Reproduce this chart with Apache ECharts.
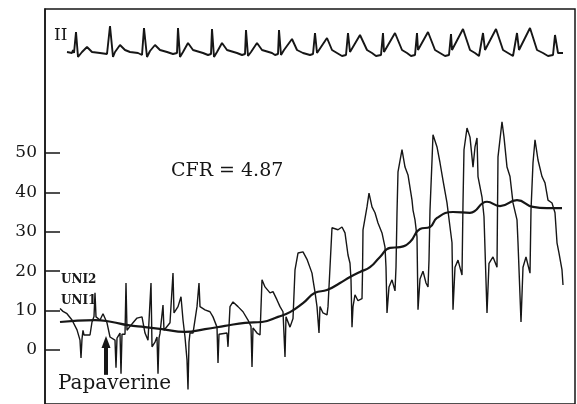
<!DOCTYPE html>
<html>
<head>
<meta charset="utf-8">
<script src="https://cdn.jsdelivr.net/npm/echarts@6/dist/echarts.min.js"></script>
<style>
  html, body { margin: 0; padding: 0; background: #fff; }
  #chart { width: 577px; height: 404px; }
</style>
</head>
<body>
<div id="chart"></div>
<script>
// Time axis in seconds; velocity in cm/s; ECG lead II in mV.
const yTickValues = [0, 10, 20, 30, 40, 50];

// Intracoronary Doppler flow velocity trace (UNI1), [time s, cm/s]
const velocityTrace = [
  [0.30,10.5],[0.36,9.8],[0.44,9.2],[0.54,7.6],[0.64,5.1],[0.70,2.5],[0.72,-2.0],[0.74,2.8],
  [0.76,5.0],[0.78,3.8],[0.90,3.8],[0.94,7.1],[0.98,8.5],[1.00,14.5],[1.02,8.4],[1.10,7.6],
  [1.16,9.2],[1.24,6.9],[1.30,3.3],[1.40,2.5],[1.42,-4.5],[1.44,3.0],[1.50,4.3],[1.52,-6.0],
  [1.54,4.0],[1.60,4.0],[1.62,17.0],[1.64,5.0],[1.70,6.0],[1.76,6.9],[1.84,8.1],[1.94,8.4],
  [2.00,4.3],[2.06,2.5],[2.12,17.0],[2.14,0.8],[2.20,2.0],[2.24,3.3],[2.26,-6.0],[2.28,3.0],
  [2.30,4.2],[2.36,11.4],[2.38,5.0],[2.50,6.9],[2.56,19.5],[2.58,9.4],[2.66,11.0],[2.72,13.5],
  [2.76,7.6],[2.80,3.3],[2.84,-2.5],[2.86,-10.0],[2.88,2.0],[2.90,4.3],[2.96,4.3],[3.04,11.0],
  [3.08,17.0],[3.10,11.0],[3.20,10.2],[3.30,9.7],[3.36,8.4],[3.44,5.8],[3.46,-3.3],[3.48,4.0],
  [3.50,4.3],[3.64,4.3],[3.66,0.8],[3.68,6.0],[3.70,11.0],[3.76,12.2],[3.86,11.0],[3.96,9.7],
  [4.06,7.6],[4.12,6.0],[4.14,-4.3],[4.16,5.6],[4.24,4.3],[4.30,3.8],[4.34,17.8],[4.40,16.0],
  [4.50,14.5],[4.56,14.8],[4.64,12.7],[4.70,11.0],[4.76,9.7],[4.80,-1.8],[4.82,8.4],[4.90,5.8],
  [4.96,8.0],[5.00,20.3],[5.06,24.6],[5.16,24.9],[5.24,23.0],[5.34,19.5],[5.36,17.8],[5.40,14.7],
  [5.44,11.0],[5.48,4.3],[5.50,11.0],[5.56,9.4],[5.64,8.9],[5.66,11.0],[5.70,21.0],[5.74,31.0],
  [5.78,31.2],[5.86,30.5],[5.94,31.2],[6.00,29.7],[6.06,24.1],[6.10,22.0],[6.12,17.8],[6.14,5.8],
  [6.16,11.0],[6.20,14.0],[6.26,12.5],[6.34,13.0],[6.35,19.5],[6.36,30.5],[6.44,36.3],[6.48,39.8],
  [6.54,36.3],[6.60,34.8],[6.66,32.2],[6.74,29.7],[6.80,26.1],[6.82,21.0],[6.84,9.4],[6.88,16.0],
  [6.94,17.8],[7.00,15.0],[7.02,21.0],[7.04,34.8],[7.06,45.2],[7.14,50.8],[7.16,51.0],[7.20,46.4],
  [7.26,44.4],[7.30,44.0],[7.34,38.0],[7.36,35.5],[7.40,33.0],[7.44,28.7],[7.46,10.2],[7.50,18.0],
  [7.56,20.0],[7.62,17.0],[7.66,16.0],[7.68,22.8],[7.70,35.5],[7.74,48.0],[7.76,54.6],[7.84,51.5],
  [7.90,47.5],[7.96,43.0],[8.04,37.3],[8.10,31.2],[8.14,27.2],[8.16,10.2],[8.20,21.0],[8.26,22.8],
  [8.34,19.0],[8.36,37.3],[8.38,50.8],[8.44,56.3],[8.50,54.0],[8.56,46.4],[8.60,51.5],[8.64,53.8],
  [8.66,44.0],[8.74,38.8],[8.78,33.8],[8.84,9.4],[8.88,22.0],[8.96,23.6],[9.04,21.0],[9.05,35.5],
  [9.06,49.0],[9.14,57.9],[9.18,54.0],[9.24,46.4],[9.30,44.0],[9.36,37.3],[9.44,33.0],[9.46,27.2],
  [9.52,7.1],[9.56,21.0],[9.62,23.6],[9.70,19.5],[9.72,35.5],[9.76,47.5],[9.80,53.3],[9.86,48.2],
  [9.94,44.0],[10.00,42.4],[10.06,38.0],[10.14,37.3],[10.20,34.8],[10.24,27.2],[10.28,24.6],
  [10.34,20.3],[10.36,16.5]
];

// Mean velocity, [time s, cm/s]
const meanVelocity = [
  [0.30,7.1],[1.00,7.6],[1.34,7.1],[1.66,6.3],[2.00,5.8],[2.34,5.3],[2.80,4.6],[3.20,5.3],
  [3.60,6.1],[4.00,6.9],[4.34,7.1],[4.66,8.4],[4.90,9.6],[5.16,11.9],[5.40,14.5],[5.64,15.2],
  [5.90,17.0],[6.10,18.5],[6.30,19.8],[6.50,21.0],[6.70,23.6],[6.90,25.9],[7.10,26.1],[7.30,27.4],
  [7.50,30.7],[7.70,31.2],[7.84,33.5],[8.16,35.0],[8.50,34.8],[8.84,37.6],[9.10,36.5],[9.44,38.0],
  [9.76,36.3],[10.04,36.0],[10.34,36.0]
];

// Surface ECG, lead II, [time s, mV]
const ecgLeadII = [
  [0.44,0],[0.54,-0.04],[0.56,0.08],[0.58,-0.04],[0.62,0.80],[0.66,-0.20],[0.74,0],[0.84,0.20],
  [0.94,0],[1.10,-0.04],[1.24,-0.08],[1.30,1.04],[1.36,-0.20],[1.40,0],[1.50,0.28],[1.60,0.08],
  [1.70,0],[1.86,-0.04],[1.94,-0.12],[1.96,-0.08],[1.98,0.96],[2.04,-0.20],[2.10,0.04],[2.20,0.28],
  [2.30,0.08],[2.44,0],[2.56,-0.08],[2.64,-0.04],[2.66,0.96],[2.70,-0.20],[2.76,0],[2.86,0.36],
  [2.96,0.08],[3.16,-0.04],[3.26,-0.12],[3.32,-0.08],[3.34,0.92],[3.38,-0.20],[3.44,0],[3.54,0.36],
  [3.64,0.08],[3.84,-0.04],[3.94,-0.12],[4.00,-0.08],[4.02,0.88],[4.06,-0.16],[4.12,0],[4.24,0.36],
  [4.34,0.08],[4.54,-0.04],[4.60,-0.12],[4.66,-0.08],[4.68,0.88],[4.72,-0.12],[4.78,0.08],[4.94,0.52],
  [5.04,0.08],[5.16,-0.04],[5.30,-0.12],[5.36,-0.08],[5.40,0.76],[5.44,-0.04],[5.64,0.56],[5.74,0.08],
  [5.84,-0.04],[5.94,-0.16],[6.02,-0.12],[6.06,0.76],[6.10,0],[6.30,0.68],[6.44,0.08],[6.54,-0.04],
  [6.62,-0.16],[6.72,-0.12],[6.76,0.76],[6.78,0],[7.00,0.76],[7.14,0.08],[7.24,-0.04],[7.32,-0.16],
  [7.40,-0.12],[7.44,0.76],[7.46,0.08],[7.66,0.80],[7.80,0.08],[7.90,-0.04],[8.00,-0.16],[8.08,-0.12],
  [8.12,0.72],[8.14,0.08],[8.36,0.92],[8.50,0.08],[8.60,-0.04],[8.68,-0.16],[8.72,-0.12],[8.76,0.76],
  [8.80,0.08],[9.02,0.92],[9.16,0.08],[9.26,-0.04],[9.36,-0.16],[9.40,-0.12],[9.44,0.76],[9.48,0.08],
  [9.70,0.96],[9.84,0.08],[9.96,-0.04],[10.06,-0.16],[10.16,-0.12],[10.20,0.68],[10.26,-0.04],
  [10.36,-0.04]
];

// Papaverine injection marker: [time s, arrow tail cm/s, arrow tip cm/s]
const papaverineMark = [1.22, -6.3, 2.0];

const ink = '#161616';
const serif = 'DejaVu Serif';

const chart = echarts.init(document.getElementById('chart'), null, { renderer: 'canvas' });

chart.setOption({
  animation: false,
  backgroundColor: '#ffffff',
  grid: [
    { left: 45, right: 2, top: 9, bottom: -4, show: true, borderColor: ink, borderWidth: 1.5, backgroundColor: 'transparent' },
    { left: 45, right: 2, top: 20, height: 40 }
  ],
  xAxis: [
    { type: 'value', gridIndex: 0, min: 0, max: 10.6, show: false },
    { type: 'value', gridIndex: 1, min: 0, max: 10.6, show: false }
  ],
  yAxis: [
    {
      type: 'value', gridIndex: 0, min: -13.7, max: 86.5,
      splitLine: { show: false },
      axisLine: { show: true, lineStyle: { color: ink, width: 1.5 } },
      axisTick: { show: true, inside: true, length: 15, customValues: yTickValues, lineStyle: { color: ink, width: 1.5 } },
      axisLabel: { show: true, customValues: yTickValues, margin: 8, fontFamily: serif, fontSize: 17, color: ink }
    },
    { type: 'value', gridIndex: 1, min: -0.32, max: 1.28, show: false }
  ],
  series: [
    {
      name: 'ECG II', type: 'line', xAxisIndex: 1, yAxisIndex: 1,
      data: ecgLeadII, showSymbol: false, symbol: 'none',
      lineStyle: { color: ink, width: 1.9 }
    },
    {
      name: 'UNI1', type: 'line', xAxisIndex: 0, yAxisIndex: 0,
      data: velocityTrace, showSymbol: false, symbol: 'none',
      lineStyle: { color: ink, width: 1.4 },
      markLine: {
        silent: true, animation: false,
        symbol: ['none', 'triangle'], symbolSize: [9, 12],
        label: { show: false },
        lineStyle: { color: ink, width: 4, type: 'solid' },
        data: [[
          { coord: [papaverineMark[0], papaverineMark[1]] },
          { coord: [papaverineMark[0], papaverineMark[2]] }
        ]]
      }
    },
    {
      name: 'Mean', type: 'line', xAxisIndex: 0, yAxisIndex: 0,
      data: meanVelocity, showSymbol: false, symbol: 'none', smooth: 0.5,
      lineStyle: { color: ink, width: 2.2 }
    }
  ],
  graphic: [
    { type: 'text', left: 54, top: 27, style: { text: 'II', font: '17px "DejaVu Serif"', fill: ink } },
    { type: 'text', left: 171, top: 162, style: { text: 'CFR = 4.87', font: '19px "DejaVu Serif"', fill: ink } },
    { type: 'text', left: 61, top: 274, style: { text: 'UNI2', font: 'bold 12px "DejaVu Serif"', fill: ink } },
    { type: 'text', left: 61, top: 295, style: { text: 'UNI1', font: 'bold 12px "DejaVu Serif"', fill: ink } },
    { type: 'text', left: 58, top: 374, style: { text: 'Papaverine', font: '20px "DejaVu Serif"', fill: ink } }
  ]
});
</script>
</body>
</html>
